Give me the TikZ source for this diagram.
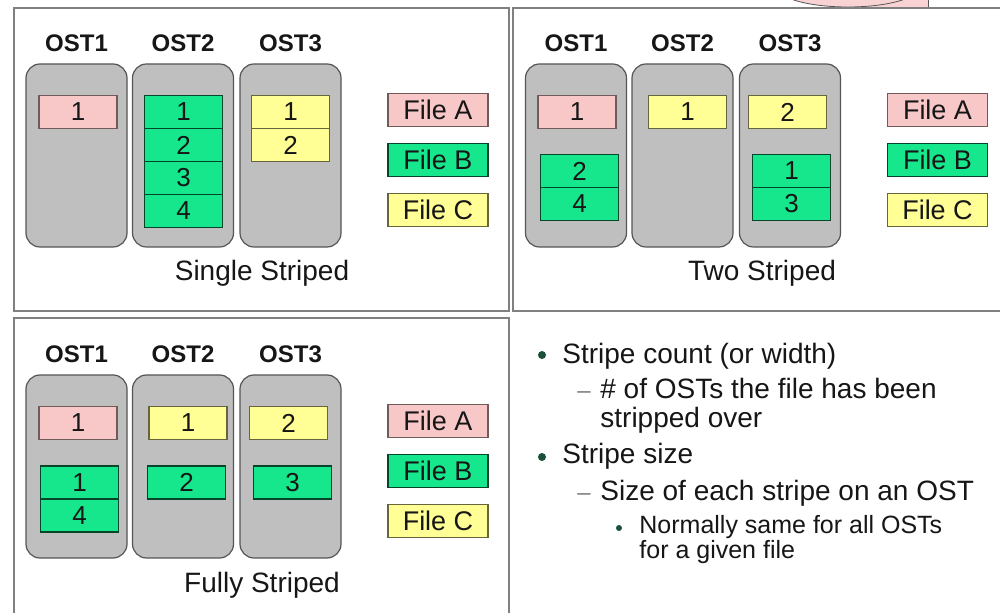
\documentclass[tikz,border=0pt]{standalone}
\usepackage{fontspec}
\setmainfont{Liberation Sans}
\usetikzlibrary{positioning}
\definecolor{frame}{RGB}{128,128,128}
\definecolor{ostgray}{RGB}{191,191,191}
\definecolor{ostedge}{RGB}{85,85,85}
\definecolor{filea}{RGB}{248,200,200}
\definecolor{fileb}{RGB}{22,230,140}
\definecolor{filec}{RGB}{255,255,150}
\definecolor{ink}{RGB}{22,22,22}
\definecolor{dotc}{RGB}{25,80,55}
\newcommand{\fs}[1]{\fontsize{#1}{#1}\selectfont}

\begin{document}
\begin{tikzpicture}[x=0.5pt, y=-0.5pt,
    panel/.style={draw=frame, line width=1pt},
    ost/.style={draw=ostedge, fill=ostgray, rounded corners=7pt, line width=0.6pt,
      minimum width=50.5pt, minimum height=91.5pt},
    ostlbl/.style={font=\bfseries\fs{12}, text=ink},
    blk/.style={minimum width=39pt, minimum height=16.5pt, inner sep=0pt,
      line width=0.6pt, font=\fs{13}, text=ink},
    fa/.style={blk, fill=filea, draw=filea!45!black},
    fb/.style={blk, fill=fileb, draw=fileb!30!black},
    fc/.style={blk, fill=filec, draw=filec!40!black},
    key/.style={minimum width=50pt, minimum height=16.5pt, inner sep=0pt,
      line width=0.6pt, font=\fs{13.5}, text=ink},
    caption/.style={font=\fs{14}, text=ink},
    point/.style={anchor=base west, inner sep=0pt, font=\fs{14}, text=ink},
    subpoint/.style={point, font=\fs{12.5}},
    dotmark/.style={circle, fill=dotc, inner sep=0pt, minimum size=4pt},
    dashmark/.style={anchor=base, inner sep=0pt, font=\fs{12}, text=frame}]

  \useasboundingbox[fill=white] (0,0) rectangle (1000,613);

  % callout edge peeking in at the top
  \begin{scope}
    \clip (0,0) rectangle (1000,8);
    \fill[filea!80] (860,-10) rectangle (928,8);
    \draw[ostedge] (928,-10) -- (928,8);
    \filldraw[fill=filea!80, draw=ostedge] (848,-12) ellipse [x radius=35pt, y radius=9.5pt];
  \end{scope}

  % panel frames
  \draw[panel] (14,8) rectangle (509,311);
  \draw[panel] (513,8) rectangle (1004,311);
  \draw[panel] (14,318) rectangle (509,620);

  % OSTs and legend, same in each panel
  \foreach \p/\dx/\dy in {s/0/0, t/499.5/0, f/0/311} {
    \foreach \i/\cx in {1/76.5, 2/183, 3/290.5} {
      \node[ostlbl] (\p-lbl\i) at (\cx+\dx, 43+\dy) {OST\i};
      \node[ost] (\p-ost\i) at (\cx+\dx, 155.5+\dy) {};
    }
    \node[key, fill=filea, draw=filea!45!black] (\p-keya) at (438+\dx, 110+\dy) {File A};
    \node[key, fill=fileb, draw=fileb!30!black] (\p-keyb) at (438+\dx, 160+\dy) {File B};
    \node[key, fill=filec, draw=filec!40!black] (\p-keyc) at (438+\dx, 210+\dy) {File C};
  }

  % single striped
  \node[fa] (s-a1) at (78,112) {1};
  \foreach \k in {1,...,4}
    \node[fb] (s-b\k) at (183.5, 79+33*\k) {\k};
  \node[fc] (s-c1) at (290.5,112) {1};
  \node[fc] (s-c2) at (290.5,145) {2};
  \node[caption] (s-cap) at (262,273) {Single Striped};

  % two striped
  \node[fa] (t-a1) at (577,112) {1};
  \node[fb] (t-b2) at (579.5,171) {2};
  \node[fb] (t-b4) at (579.5,204) {4};
  \node[fc] (t-c1) at (687.5,112) {1};
  \node[fc] (t-c2) at (787.5,112) {2};
  \node[fb] (t-b1) at (791.5,171) {1};
  \node[fb] (t-b3) at (791.5,204) {3};
  \node[caption] (t-cap) at (762,273) {Two Striped};

  % fully striped
  \node[fa] (f-a1) at (78,423) {1};
  \node[fb] (f-b1) at (79.5,482.5) {1};
  \node[fb] (f-b4) at (79.5,515.5) {4};
  \node[fc] (f-c1) at (188,423) {1};
  \node[fb] (f-b2) at (186.5,482.5) {2};
  \node[fc] (f-c2) at (288.5,423) {2};
  \node[fb] (f-b3) at (292.5,482.5) {3};
  \node[caption] (f-cap) at (262,585) {Fully Striped};

  % notes
  \node[dotmark] (d1) at (542,355) {};
  \node[point] (n1) at (562,364) {Stripe count (or width)};
  \node[dashmark] (m1) at (584,399) {--};
  \node[point] (n1a) at (600,399) {\# of OSTs the file has been};
  \node[point] (n1b) at (600,428) {stripped over};
  \node[dotmark] (d2) at (542,457) {};
  \node[point] (n2) at (562,464) {Stripe size};
  \node[dashmark] (m2) at (584,501) {--};
  \node[point] (n2a) at (600,501) {Size of each stripe on an OST};
  \node[dotmark, minimum size=3pt] (d3) at (619,528) {};
  \node[subpoint] (n3a) at (639,534) {Normally same for all OSTs};
  \node[subpoint] (n3b) at (639,559) {for a given file};
\end{tikzpicture}
\end{document}
